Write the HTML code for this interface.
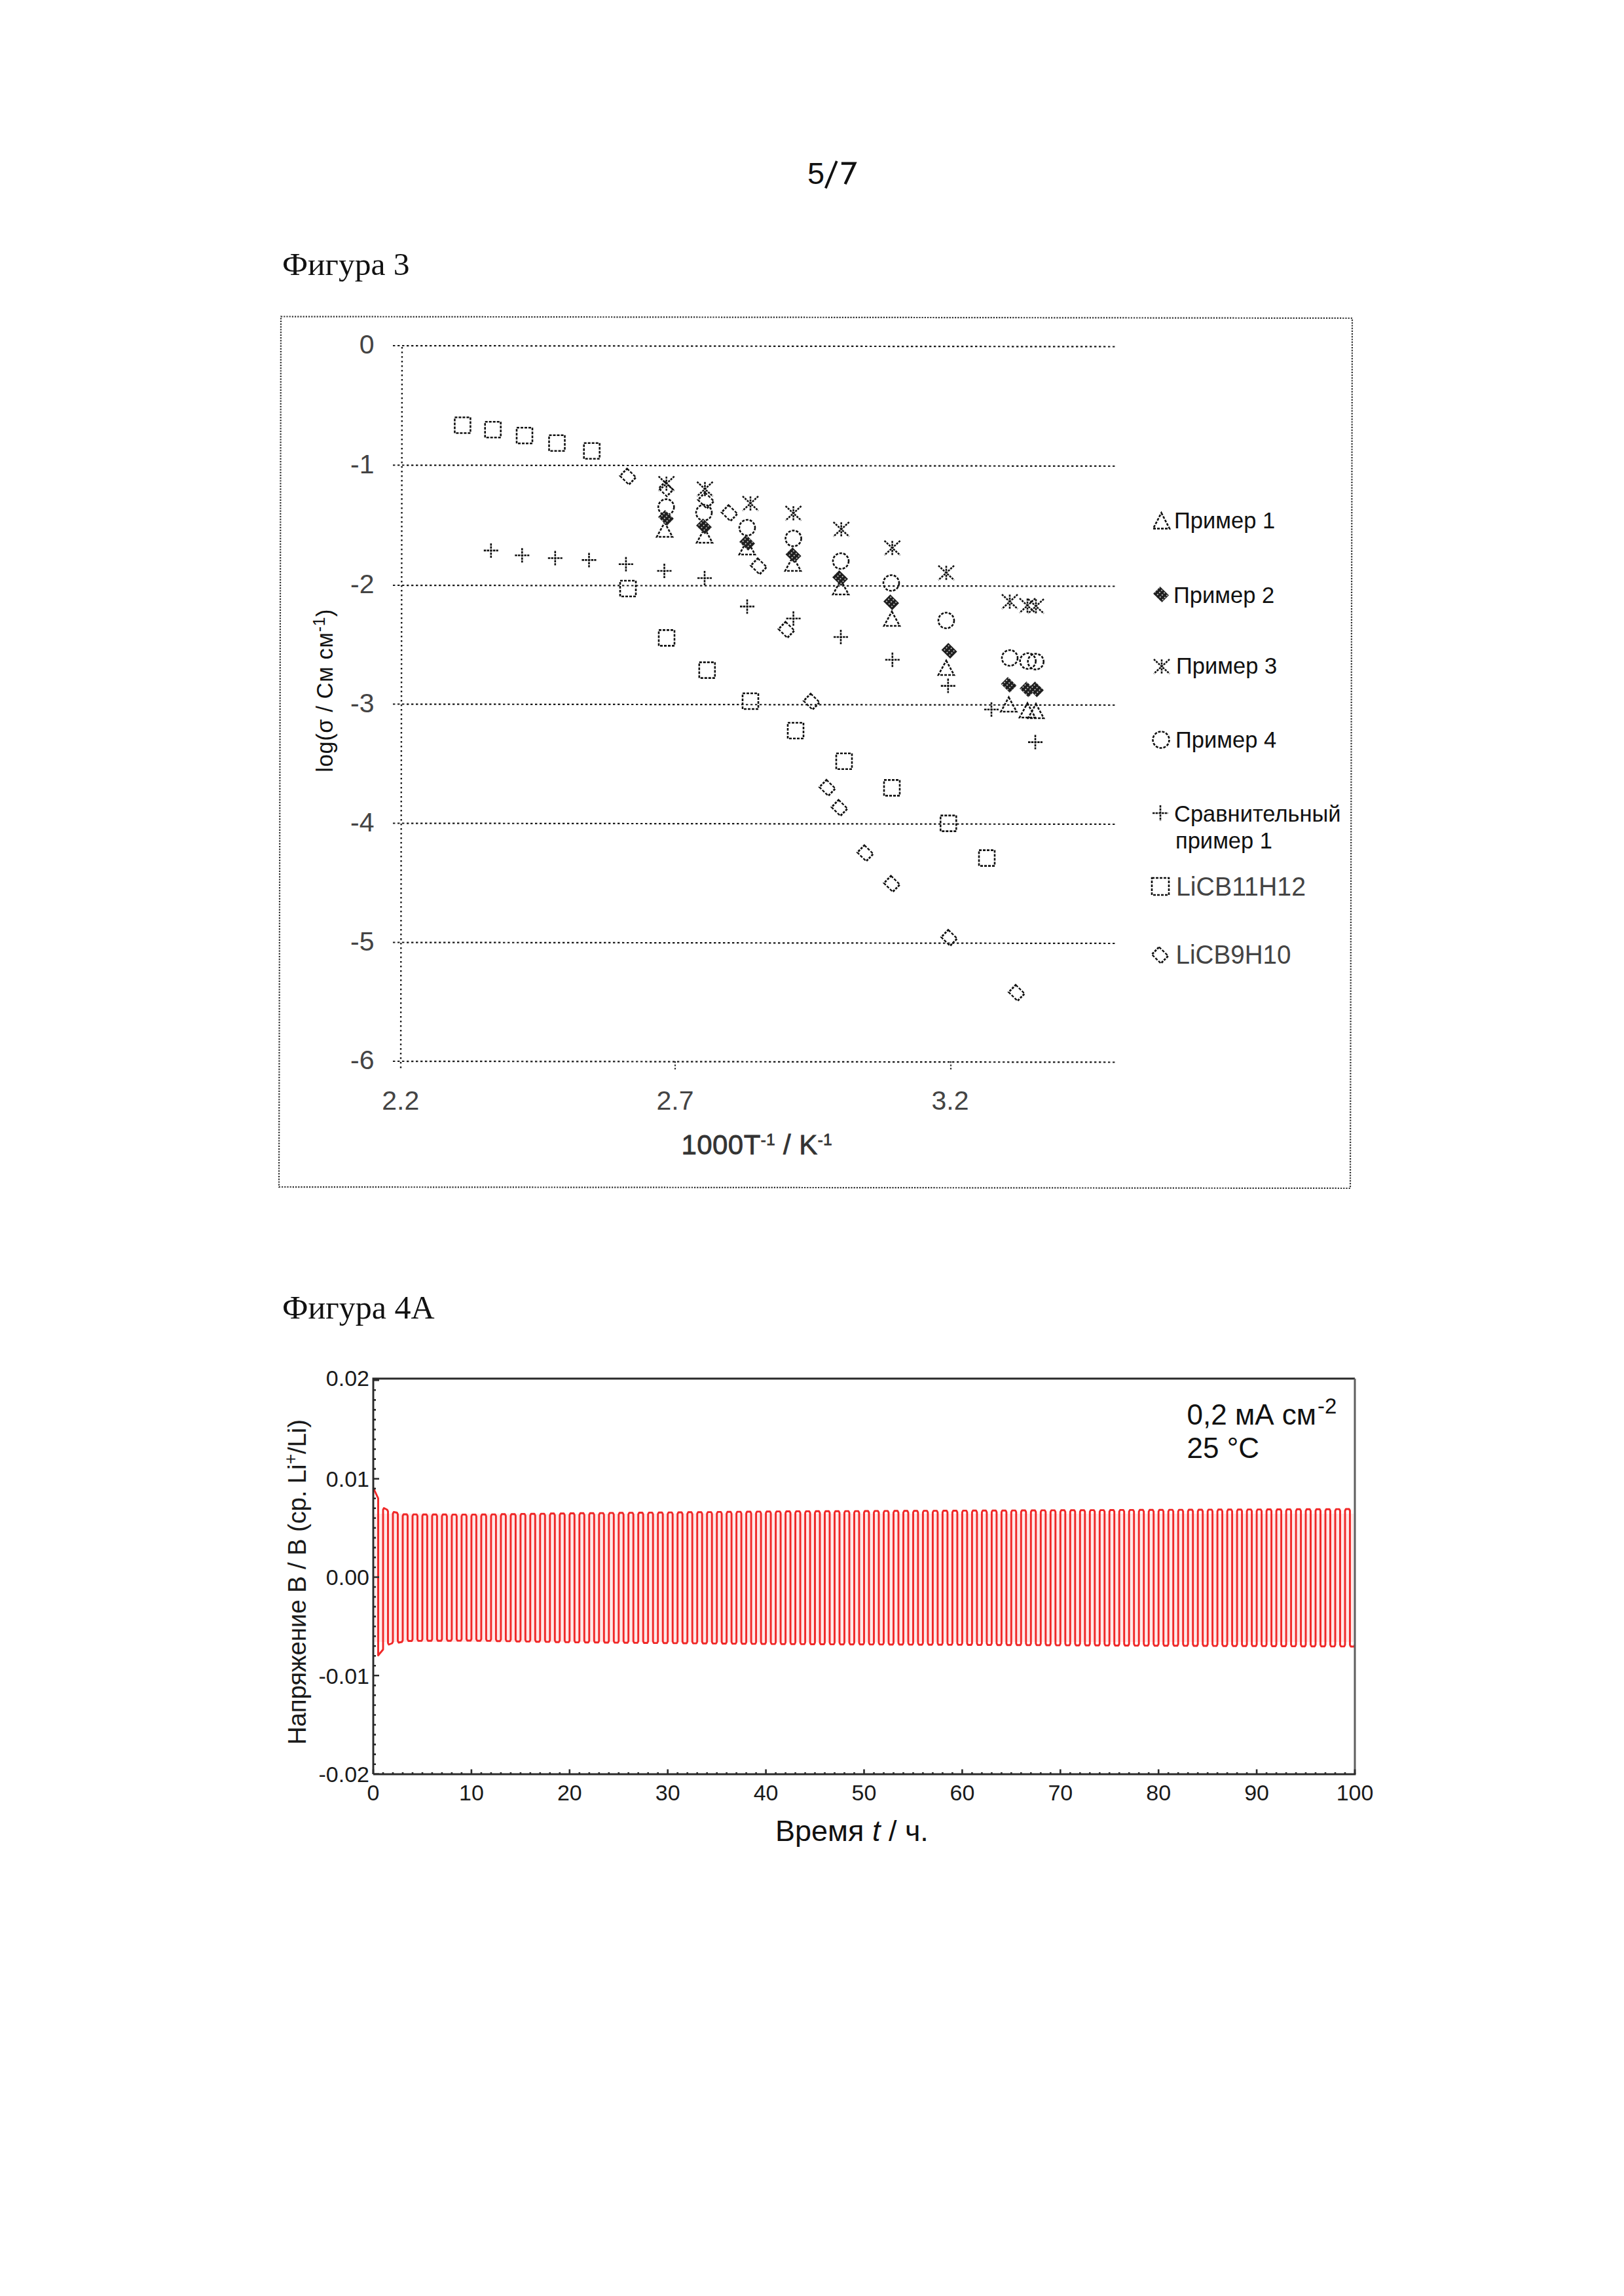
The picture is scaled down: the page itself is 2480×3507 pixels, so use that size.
<!DOCTYPE html>
<html><head><meta charset="utf-8"><title>5/7</title>
<style>html,body{margin:0;padding:0;background:#fff;} body{width:2480px;height:3507px;overflow:hidden;position:relative;} svg{position:absolute;left:0;top:0;}</style>
</head><body>
<svg width="2480" height="3507" viewBox="0 0 2480 3507">
<defs><pattern id="dots" width="5" height="5" patternUnits="userSpaceOnUse" patternTransform="rotate(45)"><circle cx="2.5" cy="2.5" r="0.9" fill="#fff"/></pattern></defs>
<polygon points="429,483.5 2065,486 2062,1815 426,1813" fill="none" stroke="#333" stroke-width="2.2" stroke-dasharray="2.2 2"/>
<line x1="600" y1="528" x2="1706" y2="529.5" stroke="#1a1a1a" stroke-width="2.2" stroke-dasharray="3.4 3.6"/>
<line x1="600" y1="710.5" x2="1706" y2="712.0" stroke="#1a1a1a" stroke-width="2.2" stroke-dasharray="3.4 3.6"/>
<line x1="600" y1="894" x2="1706" y2="895.5" stroke="#1a1a1a" stroke-width="2.2" stroke-dasharray="3.4 3.6"/>
<line x1="600" y1="1075.5" x2="1706" y2="1077.0" stroke="#1a1a1a" stroke-width="2.2" stroke-dasharray="3.4 3.6"/>
<line x1="600" y1="1257.5" x2="1706" y2="1259.0" stroke="#1a1a1a" stroke-width="2.2" stroke-dasharray="3.4 3.6"/>
<line x1="600" y1="1439.5" x2="1706" y2="1441.0" stroke="#1a1a1a" stroke-width="2.2" stroke-dasharray="3.4 3.6"/>
<line x1="600" y1="1621" x2="1706" y2="1622.5" stroke="#1a1a1a" stroke-width="2.2" stroke-dasharray="3.4 3.6"/>
<line x1="614" y1="530" x2="612" y2="1634" stroke="#1a1a1a" stroke-width="2.4" stroke-dasharray="2.4 4.6"/>
<line x1="1031" y1="1621" x2="1031" y2="1634" stroke="#333" stroke-width="2.2" stroke-dasharray="2.4 2.6"/>
<line x1="1452" y1="1621" x2="1452" y2="1634" stroke="#333" stroke-width="2.2" stroke-dasharray="2.4 2.6"/>
<rect x="694.4" y="637.5" width="24" height="24" fill="none" stroke="#111" stroke-width="2.6" stroke-dasharray="4 2"/>
<rect x="740.7" y="644.2" width="24" height="24" fill="none" stroke="#111" stroke-width="2.6" stroke-dasharray="4 2"/>
<rect x="789.0" y="653.3" width="24" height="24" fill="none" stroke="#111" stroke-width="2.6" stroke-dasharray="4 2"/>
<rect x="838.5" y="664.7" width="24" height="24" fill="none" stroke="#111" stroke-width="2.6" stroke-dasharray="4 2"/>
<rect x="891.7" y="676.7" width="24" height="24" fill="none" stroke="#111" stroke-width="2.6" stroke-dasharray="4 2"/>
<rect x="947.0" y="887.0" width="24" height="24" fill="none" stroke="#111" stroke-width="2.6" stroke-dasharray="4 2"/>
<rect x="1006.0" y="962.4" width="24" height="24" fill="none" stroke="#111" stroke-width="2.6" stroke-dasharray="4 2"/>
<rect x="1067.8" y="1011.6" width="24" height="24" fill="none" stroke="#111" stroke-width="2.6" stroke-dasharray="4 2"/>
<rect x="1134.0" y="1059.0" width="24" height="24" fill="none" stroke="#111" stroke-width="2.6" stroke-dasharray="4 2"/>
<rect x="1203.0" y="1104.0" width="24" height="24" fill="none" stroke="#111" stroke-width="2.6" stroke-dasharray="4 2"/>
<rect x="1277.0" y="1150.8" width="24" height="24" fill="none" stroke="#111" stroke-width="2.6" stroke-dasharray="4 2"/>
<rect x="1350.0" y="1191.4" width="24" height="24" fill="none" stroke="#111" stroke-width="2.6" stroke-dasharray="4 2"/>
<rect x="1436.3" y="1245.6" width="24" height="24" fill="none" stroke="#111" stroke-width="2.6" stroke-dasharray="4 2"/>
<rect x="1495.0" y="1298.6" width="24" height="24" fill="none" stroke="#111" stroke-width="2.6" stroke-dasharray="4 2"/>
<polygon transform="translate(959 728) matrix(1 0.09 0.11 1 0 0)" points="0,-12.2 12.2,0 0,12.2 -12.2,0" fill="none" stroke="#111" stroke-width="2.6" stroke-dasharray="4 2"/>
<polygon transform="translate(1017 747) matrix(1 0.09 0.11 1 0 0)" points="0,-11 11,0 0,11 -11,0" fill="none" stroke="#111" stroke-width="2.6" stroke-dasharray="4 2"/>
<polygon transform="translate(1078 764.5) matrix(1 0.09 0.11 1 0 0)" points="0,-12.2 12.2,0 0,12.2 -12.2,0" fill="none" stroke="#111" stroke-width="2.6" stroke-dasharray="4 2"/>
<polygon transform="translate(1114 783.7) matrix(1 0.09 0.11 1 0 0)" points="0,-12.2 12.2,0 0,12.2 -12.2,0" fill="none" stroke="#111" stroke-width="2.6" stroke-dasharray="4 2"/>
<polygon transform="translate(1158.6 865) matrix(1 0.09 0.11 1 0 0)" points="0,-12.2 12.2,0 0,12.2 -12.2,0" fill="none" stroke="#111" stroke-width="2.6" stroke-dasharray="4 2"/>
<polygon transform="translate(1201 962) matrix(1 0.09 0.11 1 0 0)" points="0,-12.2 12.2,0 0,12.2 -12.2,0" fill="none" stroke="#111" stroke-width="2.6" stroke-dasharray="4 2"/>
<polygon transform="translate(1239.4 1071.7) matrix(1 0.09 0.11 1 0 0)" points="0,-12.2 12.2,0 0,12.2 -12.2,0" fill="none" stroke="#111" stroke-width="2.6" stroke-dasharray="4 2"/>
<polygon transform="translate(1263.5 1203.4) matrix(1 0.09 0.11 1 0 0)" points="0,-12.2 12.2,0 0,12.2 -12.2,0" fill="none" stroke="#111" stroke-width="2.6" stroke-dasharray="4 2"/>
<polygon transform="translate(1282 1234) matrix(1 0.09 0.11 1 0 0)" points="0,-12.2 12.2,0 0,12.2 -12.2,0" fill="none" stroke="#111" stroke-width="2.6" stroke-dasharray="4 2"/>
<polygon transform="translate(1321.4 1303.2) matrix(1 0.09 0.11 1 0 0)" points="0,-12.2 12.2,0 0,12.2 -12.2,0" fill="none" stroke="#111" stroke-width="2.6" stroke-dasharray="4 2"/>
<polygon transform="translate(1362 1350) matrix(1 0.09 0.11 1 0 0)" points="0,-12.2 12.2,0 0,12.2 -12.2,0" fill="none" stroke="#111" stroke-width="2.6" stroke-dasharray="4 2"/>
<polygon transform="translate(1449.5 1432.5) matrix(1 0.09 0.11 1 0 0)" points="0,-12.2 12.2,0 0,12.2 -12.2,0" fill="none" stroke="#111" stroke-width="2.6" stroke-dasharray="4 2"/>
<polygon transform="translate(1552.5 1516.6) matrix(1 0.09 0.11 1 0 0)" points="0,-12.2 12.2,0 0,12.2 -12.2,0" fill="none" stroke="#111" stroke-width="2.6" stroke-dasharray="4 2"/>
<circle cx="1017.3" cy="774.5" r="12" fill="none" stroke="#111" stroke-width="2.6" stroke-dasharray="4 2"/>
<circle cx="1075" cy="783" r="12" fill="none" stroke="#111" stroke-width="2.6" stroke-dasharray="4 2"/>
<circle cx="1141" cy="806" r="12" fill="none" stroke="#111" stroke-width="2.6" stroke-dasharray="4 2"/>
<circle cx="1211.6" cy="822.4" r="12" fill="none" stroke="#111" stroke-width="2.6" stroke-dasharray="4 2"/>
<circle cx="1284" cy="857" r="12" fill="none" stroke="#111" stroke-width="2.6" stroke-dasharray="4 2"/>
<circle cx="1361" cy="890.5" r="12" fill="none" stroke="#111" stroke-width="2.6" stroke-dasharray="4 2"/>
<circle cx="1445" cy="947.8" r="12" fill="none" stroke="#111" stroke-width="2.6" stroke-dasharray="4 2"/>
<circle cx="1542" cy="1005" r="12" fill="none" stroke="#111" stroke-width="2.6" stroke-dasharray="4 2"/>
<circle cx="1569.7" cy="1009.7" r="12" fill="none" stroke="#111" stroke-width="2.6" stroke-dasharray="4 2"/>
<circle cx="1581.7" cy="1010.6" r="12" fill="none" stroke="#111" stroke-width="2.6" stroke-dasharray="4 2"/>
<polygon points="1015,798.0 1027.0,820.0 1003.0,820.0" fill="none" stroke="#111" stroke-width="2.6" stroke-dasharray="4 2"/>
<polygon points="1076,807.0 1088.0,829.0 1064.0,829.0" fill="none" stroke="#111" stroke-width="2.6" stroke-dasharray="4 2"/>
<polygon points="1141,825.0 1153.0,847.0 1129.0,847.0" fill="none" stroke="#111" stroke-width="2.6" stroke-dasharray="4 2"/>
<polygon points="1211,850.0 1223.0,872.0 1199.0,872.0" fill="none" stroke="#111" stroke-width="2.6" stroke-dasharray="4 2"/>
<polygon points="1284,886.0 1296.0,908.0 1272.0,908.0" fill="none" stroke="#111" stroke-width="2.6" stroke-dasharray="4 2"/>
<polygon points="1362,934.0 1374.0,956.0 1350.0,956.0" fill="none" stroke="#111" stroke-width="2.6" stroke-dasharray="4 2"/>
<polygon points="1445,1009.0 1457.0,1031.0 1433.0,1031.0" fill="none" stroke="#111" stroke-width="2.6" stroke-dasharray="4 2"/>
<polygon points="1540.5,1065.0 1552.5,1087.0 1528.5,1087.0" fill="none" stroke="#111" stroke-width="2.6" stroke-dasharray="4 2"/>
<polygon points="1569,1074.0 1581.0,1096.0 1557.0,1096.0" fill="none" stroke="#111" stroke-width="2.6" stroke-dasharray="4 2"/>
<polygon points="1582,1075.0 1594.0,1097.0 1570.0,1097.0" fill="none" stroke="#111" stroke-width="2.6" stroke-dasharray="4 2"/>
<g transform="translate(1017 791) matrix(1 0.1 0.12 1 0 0) translate(-1017 -791)"><polygon points="1017,779 1029,791 1017,803 1005,791" fill="#1e1e1e"/><polygon points="1017,779 1029,791 1017,803 1005,791" fill="url(#dots)"/></g>
<g transform="translate(1075 804) matrix(1 0.1 0.12 1 0 0) translate(-1075 -804)"><polygon points="1075,792 1087,804 1075,816 1063,804" fill="#1e1e1e"/><polygon points="1075,792 1087,804 1075,816 1063,804" fill="url(#dots)"/></g>
<g transform="translate(1141 829) matrix(1 0.1 0.12 1 0 0) translate(-1141 -829)"><polygon points="1141,817 1153,829 1141,841 1129,829" fill="#1e1e1e"/><polygon points="1141,817 1153,829 1141,841 1129,829" fill="url(#dots)"/></g>
<g transform="translate(1211.6 848) matrix(1 0.1 0.12 1 0 0) translate(-1211.6 -848)"><polygon points="1211.6,836 1223.6,848 1211.6,860 1199.6,848" fill="#1e1e1e"/><polygon points="1211.6,836 1223.6,848 1211.6,860 1199.6,848" fill="url(#dots)"/></g>
<g transform="translate(1283 883) matrix(1 0.1 0.12 1 0 0) translate(-1283 -883)"><polygon points="1283,871 1295,883 1283,895 1271,883" fill="#1e1e1e"/><polygon points="1283,871 1295,883 1283,895 1271,883" fill="url(#dots)"/></g>
<g transform="translate(1361 920) matrix(1 0.1 0.12 1 0 0) translate(-1361 -920)"><polygon points="1361,908 1373,920 1361,932 1349,920" fill="#1e1e1e"/><polygon points="1361,908 1373,920 1361,932 1349,920" fill="url(#dots)"/></g>
<g transform="translate(1449.6 994) matrix(1 0.1 0.12 1 0 0) translate(-1449.6 -994)"><polygon points="1449.6,982 1461.6,994 1449.6,1006 1437.6,994" fill="#1e1e1e"/><polygon points="1449.6,982 1461.6,994 1449.6,1006 1437.6,994" fill="url(#dots)"/></g>
<g transform="translate(1540.5 1046) matrix(1 0.1 0.12 1 0 0) translate(-1540.5 -1046)"><polygon points="1540.5,1034 1552.5,1046 1540.5,1058 1528.5,1046" fill="#1e1e1e"/><polygon points="1540.5,1034 1552.5,1046 1540.5,1058 1528.5,1046" fill="url(#dots)"/></g>
<g transform="translate(1569 1053) matrix(1 0.1 0.12 1 0 0) translate(-1569 -1053)"><polygon points="1569,1041 1581,1053 1569,1065 1557,1053" fill="#1e1e1e"/><polygon points="1569,1041 1581,1053 1569,1065 1557,1053" fill="url(#dots)"/></g>
<g transform="translate(1582 1053) matrix(1 0.1 0.12 1 0 0) translate(-1582 -1053)"><polygon points="1582,1041 1594,1053 1582,1065 1570,1053" fill="#1e1e1e"/><polygon points="1582,1041 1594,1053 1582,1065 1570,1053" fill="url(#dots)"/></g>
<path d="M1005.7,727.6600000000001 L1029.7,749.74 M1029.7,727.6600000000001 L1005.7,749.74 M1017.7,727.9000000000001 L1017.7,735.7 M1017.7,741.7 L1017.7,749.5" fill="none" stroke="#111" stroke-width="2.6" stroke-dasharray="3.2 1.4"/>
<path d="M1064.5,735.96 L1088.5,758.04 M1088.5,735.96 L1064.5,758.04 M1076.5,736.2 L1076.5,744 M1076.5,750 L1076.5,757.8" fill="none" stroke="#111" stroke-width="2.6" stroke-dasharray="3.2 1.4"/>
<path d="M1134,757.96 L1158,780.04 M1158,757.96 L1134,780.04 M1146,758.2 L1146,766 M1146,772 L1146,779.8" fill="none" stroke="#111" stroke-width="2.6" stroke-dasharray="3.2 1.4"/>
<path d="M1199.6,772.96 L1223.6,795.04 M1223.6,772.96 L1199.6,795.04 M1211.6,773.2 L1211.6,781 M1211.6,787 L1211.6,794.8" fill="none" stroke="#111" stroke-width="2.6" stroke-dasharray="3.2 1.4"/>
<path d="M1272.7,797.46 L1296.7,819.54 M1296.7,797.46 L1272.7,819.54 M1284.7,797.7 L1284.7,805.5 M1284.7,811.5 L1284.7,819.3" fill="none" stroke="#111" stroke-width="2.6" stroke-dasharray="3.2 1.4"/>
<path d="M1350.6,825.96 L1374.6,848.04 M1374.6,825.96 L1350.6,848.04 M1362.6,826.2 L1362.6,834 M1362.6,840 L1362.6,847.8" fill="none" stroke="#111" stroke-width="2.6" stroke-dasharray="3.2 1.4"/>
<path d="M1433,863.96 L1457,886.04 M1457,863.96 L1433,886.04 M1445,864.2 L1445,872 M1445,878 L1445,885.8" fill="none" stroke="#111" stroke-width="2.6" stroke-dasharray="3.2 1.4"/>
<path d="M1530,907.96 L1554,930.04 M1554,907.96 L1530,930.04 M1542,908.2 L1542,916 M1542,922 L1542,929.8" fill="none" stroke="#111" stroke-width="2.6" stroke-dasharray="3.2 1.4"/>
<path d="M1557,913.96 L1581,936.04 M1581,913.96 L1557,936.04 M1569,914.2 L1569,922 M1569,928 L1569,935.8" fill="none" stroke="#111" stroke-width="2.6" stroke-dasharray="3.2 1.4"/>
<path d="M1570,914.96 L1594,937.04 M1594,914.96 L1570,937.04 M1582,915.2 L1582,923 M1582,929 L1582,936.8" fill="none" stroke="#111" stroke-width="2.6" stroke-dasharray="3.2 1.4"/>
<path d="M738.8,840.9 L760.8,840.9 M749.8,829.9 L749.8,851.9" fill="none" stroke="#111" stroke-width="2.6" stroke-dasharray="3.5 1.2"/>
<path d="M786.3,848.3 L808.3,848.3 M797.3,837.3 L797.3,859.3" fill="none" stroke="#111" stroke-width="2.6" stroke-dasharray="3.5 1.2"/>
<path d="M836.8,852.5 L858.8,852.5 M847.8,841.5 L847.8,863.5" fill="none" stroke="#111" stroke-width="2.6" stroke-dasharray="3.5 1.2"/>
<path d="M888.5,855.4 L910.5,855.4 M899.5,844.4 L899.5,866.4" fill="none" stroke="#111" stroke-width="2.6" stroke-dasharray="3.5 1.2"/>
<path d="M944.9,861.8 L966.9,861.8 M955.9,850.8 L955.9,872.8" fill="none" stroke="#111" stroke-width="2.6" stroke-dasharray="3.5 1.2"/>
<path d="M1003.5,872 L1025.5,872 M1014.5,861 L1014.5,883" fill="none" stroke="#111" stroke-width="2.6" stroke-dasharray="3.5 1.2"/>
<path d="M1065,883 L1087,883 M1076,872 L1076,894" fill="none" stroke="#111" stroke-width="2.6" stroke-dasharray="3.5 1.2"/>
<path d="M1130,926.4 L1152,926.4 M1141,915.4 L1141,937.4" fill="none" stroke="#111" stroke-width="2.6" stroke-dasharray="3.5 1.2"/>
<path d="M1200.6,944.8 L1222.6,944.8 M1211.6,933.8 L1211.6,955.8" fill="none" stroke="#111" stroke-width="2.6" stroke-dasharray="3.5 1.2"/>
<path d="M1273,973 L1295,973 M1284,962 L1284,984" fill="none" stroke="#111" stroke-width="2.6" stroke-dasharray="3.5 1.2"/>
<path d="M1351.8,1007.8 L1373.8,1007.8 M1362.8,996.8 L1362.8,1018.8" fill="none" stroke="#111" stroke-width="2.6" stroke-dasharray="3.5 1.2"/>
<path d="M1436.8,1047.6 L1458.8,1047.6 M1447.8,1036.6 L1447.8,1058.6" fill="none" stroke="#111" stroke-width="2.6" stroke-dasharray="3.5 1.2"/>
<path d="M1503,1083.7 L1525,1083.7 M1514,1072.7 L1514,1094.7" fill="none" stroke="#111" stroke-width="2.6" stroke-dasharray="3.5 1.2"/>
<path d="M1570,1133.6 L1592,1133.6 M1581,1122.6 L1581,1144.6" fill="none" stroke="#111" stroke-width="2.6" stroke-dasharray="3.5 1.2"/>
<text x="571.5" y="540" text-anchor="end" style="font-family:'Liberation Sans',sans-serif;font-size:41px" fill="#444">0</text>
<text x="571.5" y="722.5" text-anchor="end" style="font-family:'Liberation Sans',sans-serif;font-size:41px" fill="#444">-1</text>
<text x="571.5" y="906" text-anchor="end" style="font-family:'Liberation Sans',sans-serif;font-size:41px" fill="#444">-2</text>
<text x="571.5" y="1087.5" text-anchor="end" style="font-family:'Liberation Sans',sans-serif;font-size:41px" fill="#444">-3</text>
<text x="571.5" y="1269.5" text-anchor="end" style="font-family:'Liberation Sans',sans-serif;font-size:41px" fill="#444">-4</text>
<text x="571.5" y="1451.5" text-anchor="end" style="font-family:'Liberation Sans',sans-serif;font-size:41px" fill="#444">-5</text>
<text x="571.5" y="1633" text-anchor="end" style="font-family:'Liberation Sans',sans-serif;font-size:41px" fill="#444">-6</text>
<text x="611.7" y="1695" text-anchor="middle" style="font-family:'Liberation Sans',sans-serif;font-size:41px" fill="#444">2.2</text>
<text x="1031" y="1695" text-anchor="middle" style="font-family:'Liberation Sans',sans-serif;font-size:41px" fill="#444">2.7</text>
<text x="1451" y="1695" text-anchor="middle" style="font-family:'Liberation Sans',sans-serif;font-size:41px" fill="#444">3.2</text>
<text x="1040.5" y="1763" textLength="230" style="font-family:'Liberation Sans',sans-serif;font-size:42px" fill="#333" stroke="#333" stroke-width="0.8">1000T<tspan dy="-14" style="font-size:24px">-1</tspan><tspan dy="14"> / K</tspan><tspan dy="-14" style="font-size:24px">-1</tspan></text>
<text transform="translate(508.4,1179.5) rotate(-90)" x="0" y="0" textLength="249" style="font-family:'Liberation Sans',sans-serif;font-size:34.5px" fill="#111">log(σ / См см<tspan dy="-12" style="font-size:25px">-1</tspan><tspan dy="12">)</tspan></text>
<text x="1793" y="807" style="font-family:'Liberation Sans',sans-serif;font-size:34.5px" fill="#111">Пример 1</text>
<text x="1792" y="921" style="font-family:'Liberation Sans',sans-serif;font-size:34.5px" fill="#111">Пример 2</text>
<text x="1796" y="1029" style="font-family:'Liberation Sans',sans-serif;font-size:34.5px" fill="#111">Пример 3</text>
<text x="1795" y="1142.4" style="font-family:'Liberation Sans',sans-serif;font-size:34.5px" fill="#111">Пример 4</text>
<text x="1793" y="1254.8" style="font-family:'Liberation Sans',sans-serif;font-size:34.5px" fill="#111">Сравнительный</text>
<text x="1795" y="1295.7" style="font-family:'Liberation Sans',sans-serif;font-size:34.5px" fill="#111">пример 1</text>
<text x="1796" y="1368" textLength="198" lengthAdjust="spacingAndGlyphs" style="font-family:'Liberation Sans',sans-serif;font-size:41px" fill="#444">LiCB11H12</text>
<text x="1795.5" y="1471.5" textLength="176" lengthAdjust="spacingAndGlyphs" style="font-family:'Liberation Sans',sans-serif;font-size:41px" fill="#444">LiCB9H10</text>
<polygon points="1773.5,783.4 1786.0,807.4 1761.0,807.4" fill="none" stroke="#111" stroke-width="2.6" stroke-dasharray="4 2"/>
<g transform="translate(1773 908) matrix(1 0.1 0.12 1 0 0) translate(-1773 -908)"><polygon points="1773,896 1785,908 1773,920 1761,908" fill="#1e1e1e"/><polygon points="1773,896 1785,908 1773,920 1761,908" fill="url(#dots)"/></g>
<path d="M1762,1006.96 L1786,1029.04 M1786,1006.96 L1762,1029.04 M1774,1007.2 L1774,1015 M1774,1021 L1774,1028.8" fill="none" stroke="#111" stroke-width="2.6" stroke-dasharray="3.2 1.4"/>
<circle cx="1773" cy="1130" r="12.5" fill="none" stroke="#111" stroke-width="2.6" stroke-dasharray="4 2"/>
<path d="M1760,1242 L1784,1242 M1772,1230 L1772,1254" fill="none" stroke="#111" stroke-width="2.6" stroke-dasharray="3.5 1.2"/>
<rect x="1759.0" y="1341.0" width="26" height="26" fill="none" stroke="#111" stroke-width="2.6" stroke-dasharray="4 2"/>
<polygon transform="translate(1771.4 1459) matrix(1 0.09 0.11 1 0 0)" points="0,-12.5 12.5,0 0,12.5 -12.5,0" fill="none" stroke="#111" stroke-width="2.6" stroke-dasharray="4 2"/>
<text x="1233" y="281.2" style="font-family:'Liberation Sans',sans-serif;font-size:47px" fill="#111">5</text>
<path d="M1284.9,249.6 L1305.3,249.6 L1290.6,281.2" fill="none" stroke="#111" stroke-width="4.3" stroke-linejoin="miter"/>
<line x1="1277.8" y1="246" x2="1260.8" y2="287.5" stroke="#111" stroke-width="3.8"/>
<text x="431" y="419.8" style="font-family:'Liberation Serif',serif;font-size:49.5px" fill="#111">Фигура 3</text>
<text x="431" y="2014" style="font-family:'Liberation Serif',serif;font-size:50px" fill="#111">Фигура 4А</text>
<rect x="572.0" y="2312" width="1495.0" height="196" fill="#ffe8e8"/>
<path d="M570.0,2272.5 L577.5,2288.5 L577.5,2528.5 L585.0,2519.5 L585.0,2306.0 L586.3,2303.5 L591.2,2306.0 L592.5,2308.5 L592.5,2509.5 L593.8,2512.0 L598.7,2510.0 L600.0,2507.5 L600.0,2312.0 L601.3,2309.5 L606.2,2310.5 L607.5,2313.0 L607.5,2506.5 L608.8,2509.0 L613.7,2508.0 L615.0,2505.5 L615.0,2315.5 L616.3,2313.0 L621.2,2313.0 L622.5,2315.5 L622.5,2504.0 L623.8,2506.5 L628.7,2506.5 L630.0,2504.0 L630.0,2315.6 L631.3,2313.1 L636.2,2313.1 L637.5,2315.6 L637.5,2503.9 L638.8,2506.4 L643.7,2506.4 L645.0,2503.9 L645.0,2315.7 L646.2,2313.2 L651.1,2313.2 L652.4,2315.7 L652.4,2503.8 L653.7,2506.3 L658.6,2506.3 L659.9,2503.8 L659.9,2315.7 L661.2,2313.2 L666.1,2313.2 L667.4,2315.7 L667.4,2503.8 L668.7,2506.2 L673.6,2506.2 L674.9,2503.8 L674.9,2315.8 L676.2,2313.3 L681.1,2313.3 L682.4,2315.8 L682.4,2503.7 L683.7,2506.2 L688.6,2506.2 L689.9,2503.7 L689.9,2315.9 L691.2,2313.4 L696.1,2313.4 L697.4,2315.9 L697.4,2503.6 L698.7,2506.1 L703.6,2506.1 L704.9,2503.6 L704.9,2315.9 L706.2,2313.4 L711.1,2313.4 L712.4,2315.9 L712.4,2503.5 L713.7,2506.0 L718.6,2506.0 L719.9,2503.5 L719.9,2315.9 L721.2,2313.4 L726.1,2313.4 L727.4,2315.9 L727.4,2503.7 L728.7,2506.2 L733.6,2506.2 L734.9,2503.7 L734.9,2315.8 L736.2,2313.2 L741.1,2313.2 L742.4,2315.8 L742.4,2503.9 L743.7,2506.4 L748.6,2506.4 L749.9,2503.9 L749.9,2315.6 L751.2,2313.1 L756.1,2313.1 L757.4,2315.6 L757.4,2504.2 L758.7,2506.7 L763.6,2506.7 L764.9,2504.2 L764.9,2315.3 L766.2,2312.8 L771.1,2312.8 L772.4,2315.3 L772.4,2504.4 L773.7,2506.9 L778.6,2506.9 L779.9,2504.4 L779.9,2315.2 L781.2,2312.7 L786.1,2312.7 L787.4,2315.2 L787.4,2504.7 L788.7,2507.2 L793.6,2507.2 L794.9,2504.7 L794.9,2314.9 L796.1,2312.4 L801.0,2312.4 L802.3,2314.9 L802.3,2504.9 L803.6,2507.4 L808.5,2507.4 L809.8,2504.9 L809.8,2314.8 L811.1,2312.2 L816.0,2312.2 L817.3,2314.8 L817.3,2505.2 L818.6,2507.7 L823.5,2507.7 L824.8,2505.2 L824.8,2314.6 L826.1,2312.1 L831.0,2312.1 L832.3,2314.6 L832.3,2505.4 L833.6,2507.9 L838.5,2507.9 L839.8,2505.4 L839.8,2314.3 L841.1,2311.8 L846.0,2311.8 L847.3,2314.3 L847.3,2505.7 L848.6,2508.2 L853.5,2508.2 L854.8,2505.7 L854.8,2314.2 L856.1,2311.7 L861.0,2311.7 L862.3,2314.2 L862.3,2505.9 L863.6,2508.4 L868.5,2508.4 L869.8,2505.9 L869.8,2314.0 L871.1,2311.5 L876.0,2311.5 L877.3,2314.0 L877.3,2506.1 L878.6,2508.6 L883.5,2508.6 L884.8,2506.1 L884.8,2313.8 L886.1,2311.3 L891.0,2311.3 L892.3,2313.8 L892.3,2506.2 L893.6,2508.7 L898.5,2508.7 L899.8,2506.2 L899.8,2313.7 L901.1,2311.2 L906.0,2311.2 L907.3,2313.7 L907.3,2506.3 L908.6,2508.8 L913.5,2508.8 L914.8,2506.3 L914.8,2313.6 L916.1,2311.1 L921.0,2311.1 L922.3,2313.6 L922.3,2506.5 L923.6,2509.0 L928.5,2509.0 L929.8,2506.5 L929.8,2313.4 L931.1,2310.9 L936.0,2310.9 L937.3,2313.4 L937.3,2506.6 L938.6,2509.1 L943.5,2509.1 L944.8,2506.6 L944.8,2313.3 L946.0,2310.8 L950.9,2310.8 L952.2,2313.3 L952.2,2506.7 L953.5,2509.2 L958.4,2509.2 L959.7,2506.7 L959.7,2313.1 L961.0,2310.6 L965.9,2310.6 L967.2,2313.1 L967.2,2506.9 L968.5,2509.4 L973.4,2509.4 L974.7,2506.9 L974.7,2313.0 L976.0,2310.5 L980.9,2310.5 L982.2,2313.0 L982.2,2507.0 L983.5,2509.5 L988.4,2509.5 L989.7,2507.0 L989.7,2312.9 L991.0,2310.4 L995.9,2310.4 L997.2,2312.9 L997.2,2507.1 L998.5,2509.6 L1003.4,2509.6 L1004.7,2507.1 L1004.7,2312.7 L1006.0,2310.2 L1010.9,2310.2 L1012.2,2312.7 L1012.2,2507.2 L1013.5,2509.7 L1018.4,2509.7 L1019.7,2507.2 L1019.7,2312.6 L1021.0,2310.1 L1025.9,2310.1 L1027.2,2312.6 L1027.2,2507.4 L1028.5,2509.9 L1033.4,2509.9 L1034.7,2507.4 L1034.7,2312.5 L1036.0,2310.0 L1040.9,2310.0 L1042.2,2312.5 L1042.2,2507.5 L1043.5,2510.0 L1048.4,2510.0 L1049.7,2507.5 L1049.7,2312.3 L1051.0,2309.8 L1055.9,2309.8 L1057.2,2312.3 L1057.2,2507.6 L1058.5,2510.1 L1063.4,2510.1 L1064.7,2507.6 L1064.7,2312.2 L1066.0,2309.7 L1070.9,2309.7 L1072.2,2312.2 L1072.2,2507.8 L1073.5,2510.2 L1078.4,2510.2 L1079.7,2507.8 L1079.7,2312.1 L1081.0,2309.6 L1085.9,2309.6 L1087.2,2312.1 L1087.2,2507.9 L1088.5,2510.4 L1093.4,2510.4 L1094.7,2507.9 L1094.7,2311.9 L1096.0,2309.4 L1100.8,2309.4 L1102.1,2311.9 L1102.1,2508.0 L1103.4,2510.5 L1108.3,2510.5 L1109.6,2508.0 L1109.6,2311.8 L1110.9,2309.3 L1115.8,2309.3 L1117.1,2311.8 L1117.1,2508.1 L1118.4,2510.6 L1123.3,2510.6 L1124.6,2508.1 L1124.6,2311.6 L1125.9,2309.1 L1130.8,2309.1 L1132.1,2311.6 L1132.1,2508.3 L1133.4,2510.8 L1138.3,2510.8 L1139.6,2508.3 L1139.6,2311.5 L1140.9,2309.0 L1145.8,2309.0 L1147.1,2311.5 L1147.1,2508.4 L1148.4,2510.9 L1153.3,2510.9 L1154.6,2508.4 L1154.6,2311.4 L1155.9,2308.9 L1160.8,2308.9 L1162.1,2311.4 L1162.1,2508.5 L1163.4,2511.0 L1168.3,2511.0 L1169.6,2508.5 L1169.6,2311.2 L1170.9,2308.7 L1175.8,2308.7 L1177.1,2311.2 L1177.1,2508.6 L1178.4,2511.1 L1183.3,2511.1 L1184.6,2508.6 L1184.6,2311.1 L1185.9,2308.6 L1190.8,2308.6 L1192.1,2311.1 L1192.1,2508.8 L1193.4,2511.3 L1198.3,2511.3 L1199.6,2508.8 L1199.6,2311.0 L1200.9,2308.5 L1205.8,2308.5 L1207.1,2311.0 L1207.1,2508.8 L1208.4,2511.3 L1213.3,2511.3 L1214.6,2508.8 L1214.6,2310.9 L1215.9,2308.4 L1220.8,2308.4 L1222.1,2310.9 L1222.1,2508.9 L1223.4,2511.4 L1228.3,2511.4 L1229.6,2508.9 L1229.6,2310.9 L1230.9,2308.4 L1235.8,2308.4 L1237.1,2310.9 L1237.1,2509.0 L1238.4,2511.5 L1243.2,2511.5 L1244.5,2509.0 L1244.5,2310.8 L1245.8,2308.3 L1250.7,2308.3 L1252.0,2310.8 L1252.0,2509.0 L1253.3,2511.5 L1258.2,2511.5 L1259.5,2509.0 L1259.5,2310.7 L1260.8,2308.2 L1265.7,2308.2 L1267.0,2310.7 L1267.0,2509.1 L1268.3,2511.6 L1273.2,2511.6 L1274.5,2509.1 L1274.5,2310.7 L1275.8,2308.2 L1280.7,2308.2 L1282.0,2310.7 L1282.0,2509.2 L1283.3,2511.7 L1288.2,2511.7 L1289.5,2509.2 L1289.5,2310.6 L1290.8,2308.1 L1295.7,2308.1 L1297.0,2310.6 L1297.0,2509.2 L1298.3,2511.7 L1303.2,2511.7 L1304.5,2509.2 L1304.5,2310.6 L1305.8,2308.1 L1310.7,2308.1 L1312.0,2310.6 L1312.0,2509.3 L1313.3,2511.8 L1318.2,2511.8 L1319.5,2509.3 L1319.5,2310.5 L1320.8,2308.0 L1325.7,2308.0 L1327.0,2310.5 L1327.0,2509.4 L1328.3,2511.9 L1333.2,2511.9 L1334.5,2509.4 L1334.5,2310.4 L1335.8,2307.9 L1340.7,2307.9 L1342.0,2310.4 L1342.0,2509.4 L1343.3,2511.9 L1348.2,2511.9 L1349.5,2509.4 L1349.5,2310.4 L1350.8,2307.9 L1355.7,2307.9 L1357.0,2310.4 L1357.0,2509.5 L1358.3,2512.0 L1363.2,2512.0 L1364.5,2509.5 L1364.5,2310.3 L1365.8,2307.8 L1370.7,2307.8 L1372.0,2310.3 L1372.0,2509.5 L1373.3,2512.0 L1378.2,2512.0 L1379.5,2509.5 L1379.5,2310.3 L1380.8,2307.8 L1385.7,2307.8 L1387.0,2310.3 L1387.0,2509.6 L1388.3,2512.1 L1393.2,2512.1 L1394.5,2509.6 L1394.5,2310.2 L1395.8,2307.7 L1400.6,2307.7 L1401.9,2310.2 L1401.9,2509.7 L1403.2,2512.2 L1408.1,2512.2 L1409.4,2509.7 L1409.4,2310.1 L1410.7,2307.6 L1415.6,2307.6 L1416.9,2310.1 L1416.9,2509.7 L1418.2,2512.2 L1423.1,2512.2 L1424.4,2509.7 L1424.4,2310.1 L1425.7,2307.6 L1430.6,2307.6 L1431.9,2310.1 L1431.9,2509.8 L1433.2,2512.3 L1438.1,2512.3 L1439.4,2509.8 L1439.4,2310.0 L1440.7,2307.5 L1445.6,2307.5 L1446.9,2310.0 L1446.9,2509.9 L1448.2,2512.4 L1453.1,2512.4 L1454.4,2509.9 L1454.4,2310.0 L1455.7,2307.5 L1460.6,2307.5 L1461.9,2310.0 L1461.9,2509.9 L1463.2,2512.4 L1468.1,2512.4 L1469.4,2509.9 L1469.4,2309.9 L1470.7,2307.4 L1475.6,2307.4 L1476.9,2309.9 L1476.9,2510.0 L1478.2,2512.5 L1483.1,2512.5 L1484.4,2510.0 L1484.4,2309.8 L1485.7,2307.3 L1490.6,2307.3 L1491.9,2309.8 L1491.9,2510.1 L1493.2,2512.6 L1498.1,2512.6 L1499.4,2510.1 L1499.4,2309.8 L1500.7,2307.3 L1505.6,2307.3 L1506.9,2309.8 L1506.9,2510.1 L1508.2,2512.6 L1513.1,2512.6 L1514.4,2510.1 L1514.4,2309.7 L1515.7,2307.2 L1520.6,2307.2 L1521.9,2309.7 L1521.9,2510.2 L1523.2,2512.7 L1528.1,2512.7 L1529.4,2510.2 L1529.4,2309.7 L1530.7,2307.2 L1535.6,2307.2 L1536.9,2309.7 L1536.9,2510.3 L1538.2,2512.8 L1543.0,2512.8 L1544.3,2510.3 L1544.3,2309.6 L1545.6,2307.1 L1550.5,2307.1 L1551.8,2309.6 L1551.8,2510.3 L1553.1,2512.8 L1558.0,2512.8 L1559.3,2510.3 L1559.3,2309.5 L1560.6,2307.0 L1565.5,2307.0 L1566.8,2309.5 L1566.8,2510.4 L1568.1,2512.9 L1573.0,2512.9 L1574.3,2510.4 L1574.3,2309.5 L1575.6,2307.0 L1580.5,2307.0 L1581.8,2309.5 L1581.8,2510.4 L1583.1,2512.9 L1588.0,2512.9 L1589.3,2510.4 L1589.3,2309.4 L1590.6,2306.9 L1595.5,2306.9 L1596.8,2309.4 L1596.8,2510.5 L1598.1,2513.0 L1603.0,2513.0 L1604.3,2510.5 L1604.3,2309.4 L1605.6,2306.9 L1610.5,2306.9 L1611.8,2309.4 L1611.8,2510.6 L1613.1,2513.1 L1618.0,2513.1 L1619.3,2510.6 L1619.3,2309.3 L1620.6,2306.8 L1625.5,2306.8 L1626.8,2309.3 L1626.8,2510.6 L1628.1,2513.1 L1633.0,2513.1 L1634.3,2510.6 L1634.3,2309.2 L1635.6,2306.7 L1640.5,2306.7 L1641.8,2309.2 L1641.8,2510.7 L1643.1,2513.2 L1648.0,2513.2 L1649.3,2510.7 L1649.3,2309.2 L1650.6,2306.7 L1655.5,2306.7 L1656.8,2309.2 L1656.8,2510.8 L1658.1,2513.3 L1663.0,2513.3 L1664.3,2510.8 L1664.3,2309.1 L1665.6,2306.6 L1670.5,2306.6 L1671.8,2309.1 L1671.8,2510.8 L1673.1,2513.3 L1678.0,2513.3 L1679.3,2510.8 L1679.3,2309.1 L1680.6,2306.6 L1685.5,2306.6 L1686.8,2309.1 L1686.8,2510.9 L1688.1,2513.4 L1693.0,2513.4 L1694.2,2510.9 L1694.2,2309.0 L1695.5,2306.5 L1700.4,2306.5 L1701.7,2309.0 L1701.7,2511.0 L1703.0,2513.5 L1707.9,2513.5 L1709.2,2511.0 L1709.2,2308.9 L1710.5,2306.4 L1715.4,2306.4 L1716.7,2308.9 L1716.7,2511.0 L1718.0,2513.5 L1722.9,2513.5 L1724.2,2511.0 L1724.2,2308.9 L1725.5,2306.4 L1730.4,2306.4 L1731.7,2308.9 L1731.7,2511.1 L1733.0,2513.6 L1737.9,2513.6 L1739.2,2511.1 L1739.2,2308.8 L1740.5,2306.3 L1745.4,2306.3 L1746.7,2308.8 L1746.7,2511.1 L1748.0,2513.6 L1752.9,2513.6 L1754.2,2511.1 L1754.2,2308.8 L1755.5,2306.3 L1760.4,2306.3 L1761.7,2308.8 L1761.7,2511.2 L1763.0,2513.7 L1767.9,2513.7 L1769.2,2511.2 L1769.2,2308.7 L1770.5,2306.2 L1775.4,2306.2 L1776.7,2308.7 L1776.7,2511.3 L1778.0,2513.8 L1782.9,2513.8 L1784.2,2511.3 L1784.2,2308.6 L1785.5,2306.1 L1790.4,2306.1 L1791.7,2308.6 L1791.7,2511.3 L1793.0,2513.8 L1797.9,2513.8 L1799.2,2511.3 L1799.2,2308.6 L1800.5,2306.1 L1805.4,2306.1 L1806.7,2308.6 L1806.7,2511.4 L1808.0,2513.9 L1812.9,2513.9 L1814.2,2511.4 L1814.2,2308.5 L1815.5,2306.0 L1820.4,2306.0 L1821.7,2308.5 L1821.7,2511.5 L1823.0,2514.0 L1827.9,2514.0 L1829.2,2511.5 L1829.2,2308.5 L1830.5,2306.0 L1835.4,2306.0 L1836.7,2308.5 L1836.7,2511.5 L1838.0,2514.0 L1842.9,2514.0 L1844.2,2511.5 L1844.2,2308.4 L1845.5,2305.9 L1850.3,2305.9 L1851.6,2308.4 L1851.6,2511.6 L1852.9,2514.1 L1857.8,2514.1 L1859.1,2511.6 L1859.1,2308.3 L1860.4,2305.8 L1865.3,2305.8 L1866.6,2308.3 L1866.6,2511.7 L1867.9,2514.2 L1872.8,2514.2 L1874.1,2511.7 L1874.1,2308.3 L1875.4,2305.8 L1880.3,2305.8 L1881.6,2308.3 L1881.6,2511.7 L1882.9,2514.2 L1887.8,2514.2 L1889.1,2511.7 L1889.1,2308.2 L1890.4,2305.7 L1895.3,2305.7 L1896.6,2308.2 L1896.6,2511.8 L1897.9,2514.3 L1902.8,2514.3 L1904.1,2511.8 L1904.1,2308.1 L1905.4,2305.6 L1910.3,2305.6 L1911.6,2308.1 L1911.6,2511.8 L1912.9,2514.3 L1917.8,2514.3 L1919.1,2511.8 L1919.1,2308.1 L1920.4,2305.6 L1925.3,2305.6 L1926.6,2308.1 L1926.6,2511.9 L1927.9,2514.4 L1932.8,2514.4 L1934.1,2511.9 L1934.1,2308.0 L1935.4,2305.5 L1940.3,2305.5 L1941.6,2308.0 L1941.6,2512.0 L1942.9,2514.5 L1947.8,2514.5 L1949.1,2512.0 L1949.1,2308.0 L1950.4,2305.5 L1955.3,2305.5 L1956.6,2308.0 L1956.6,2512.0 L1957.9,2514.5 L1962.8,2514.5 L1964.1,2512.0 L1964.1,2307.9 L1965.4,2305.4 L1970.3,2305.4 L1971.6,2307.9 L1971.6,2512.1 L1972.9,2514.6 L1977.8,2514.6 L1979.1,2512.1 L1979.1,2307.8 L1980.4,2305.3 L1985.3,2305.3 L1986.6,2307.8 L1986.6,2512.2 L1987.9,2514.7 L1992.8,2514.7 L1994.0,2512.2 L1994.0,2307.8 L1995.3,2305.3 L2000.2,2305.3 L2001.5,2307.8 L2001.5,2512.2 L2002.8,2514.7 L2007.7,2514.7 L2009.0,2512.2 L2009.0,2307.7 L2010.3,2305.2 L2015.2,2305.2 L2016.5,2307.7 L2016.5,2512.3 L2017.8,2514.8 L2022.7,2514.8 L2024.0,2512.3 L2024.0,2307.7 L2025.3,2305.2 L2030.2,2305.2 L2031.5,2307.7 L2031.5,2512.4 L2032.8,2514.9 L2037.7,2514.9 L2039.0,2512.4 L2039.0,2307.6 L2040.3,2305.1 L2045.2,2305.1 L2046.5,2307.6 L2046.5,2512.4 L2047.8,2514.9 L2052.7,2514.9 L2054.0,2512.4 L2054.0,2307.5 L2055.3,2305.0 L2060.2,2305.0 L2061.5,2307.5 L2061.5,2512.5 L2062.8,2515.0 L2067.7,2515.0 L2069.0,2512.5" fill="none" stroke="#f02828" stroke-width="2.9" stroke-linejoin="round"/>
<path d="M570.0,2710.0 L570.0,2105.7 L2069.0,2105.7" fill="none" stroke="#2a2a2a" stroke-width="2.9"/>
<path d="M2069.0,2105.7 L2069.0,2710.0" fill="none" stroke="#5e5e5e" stroke-width="3"/>
<path d="M570.0,2710.0 L2070.4,2710.0" fill="none" stroke="#2a2a2a" stroke-width="2.9"/>
<path d="M570.0,2709.7 L579.0,2709.7 M570.0,2694.7 L574.0,2694.7 M570.0,2679.6 L574.0,2679.6 M570.0,2664.6 L574.0,2664.6 M570.0,2649.6 L574.0,2649.6 M570.0,2634.5 L574.0,2634.5 M570.0,2619.5 L574.0,2619.5 M570.0,2604.5 L574.0,2604.5 M570.0,2589.4 L574.0,2589.4 M570.0,2574.4 L574.0,2574.4 M570.0,2559.3 L579.0,2559.3 M570.0,2544.3 L574.0,2544.3 M570.0,2529.3 L574.0,2529.3 M570.0,2514.2 L574.0,2514.2 M570.0,2499.2 L574.0,2499.2 M570.0,2484.2 L574.0,2484.2 M570.0,2469.1 L574.0,2469.1 M570.0,2454.1 L574.0,2454.1 M570.0,2439.1 L574.0,2439.1 M570.0,2424.0 L574.0,2424.0 M570.0,2409.0 L579.0,2409.0 M570.0,2394.0 L574.0,2394.0 M570.0,2378.9 L574.0,2378.9 M570.0,2363.9 L574.0,2363.9 M570.0,2348.9 L574.0,2348.9 M570.0,2333.8 L574.0,2333.8 M570.0,2318.8 L574.0,2318.8 M570.0,2303.8 L574.0,2303.8 M570.0,2288.7 L574.0,2288.7 M570.0,2273.7 L574.0,2273.7 M570.0,2258.7 L579.0,2258.7 M570.0,2243.6 L574.0,2243.6 M570.0,2228.6 L574.0,2228.6 M570.0,2213.5 L574.0,2213.5 M570.0,2198.5 L574.0,2198.5 M570.0,2183.5 L574.0,2183.5 M570.0,2168.4 L574.0,2168.4 M570.0,2153.4 L574.0,2153.4 M570.0,2138.4 L574.0,2138.4 M570.0,2123.3 L574.0,2123.3 M570.0,2108.3 L579.0,2108.3 M570.0,2710.0 L570.0,2702.5 M585.0,2710.0 L585.0,2707.0 M600.0,2710.0 L600.0,2707.0 M615.0,2710.0 L615.0,2707.0 M630.0,2710.0 L630.0,2707.0 M645.0,2710.0 L645.0,2707.0 M659.9,2710.0 L659.9,2707.0 M674.9,2710.0 L674.9,2707.0 M689.9,2710.0 L689.9,2707.0 M704.9,2710.0 L704.9,2707.0 M719.9,2710.0 L719.9,2702.5 M734.9,2710.0 L734.9,2707.0 M749.9,2710.0 L749.9,2707.0 M764.9,2710.0 L764.9,2707.0 M779.9,2710.0 L779.9,2707.0 M794.9,2710.0 L794.9,2707.0 M809.8,2710.0 L809.8,2707.0 M824.8,2710.0 L824.8,2707.0 M839.8,2710.0 L839.8,2707.0 M854.8,2710.0 L854.8,2707.0 M869.8,2710.0 L869.8,2702.5 M884.8,2710.0 L884.8,2707.0 M899.8,2710.0 L899.8,2707.0 M914.8,2710.0 L914.8,2707.0 M929.8,2710.0 L929.8,2707.0 M944.8,2710.0 L944.8,2707.0 M959.7,2710.0 L959.7,2707.0 M974.7,2710.0 L974.7,2707.0 M989.7,2710.0 L989.7,2707.0 M1004.7,2710.0 L1004.7,2707.0 M1019.7,2710.0 L1019.7,2702.5 M1034.7,2710.0 L1034.7,2707.0 M1049.7,2710.0 L1049.7,2707.0 M1064.7,2710.0 L1064.7,2707.0 M1079.7,2710.0 L1079.7,2707.0 M1094.7,2710.0 L1094.7,2707.0 M1109.6,2710.0 L1109.6,2707.0 M1124.6,2710.0 L1124.6,2707.0 M1139.6,2710.0 L1139.6,2707.0 M1154.6,2710.0 L1154.6,2707.0 M1169.6,2710.0 L1169.6,2702.5 M1184.6,2710.0 L1184.6,2707.0 M1199.6,2710.0 L1199.6,2707.0 M1214.6,2710.0 L1214.6,2707.0 M1229.6,2710.0 L1229.6,2707.0 M1244.5,2710.0 L1244.5,2707.0 M1259.5,2710.0 L1259.5,2707.0 M1274.5,2710.0 L1274.5,2707.0 M1289.5,2710.0 L1289.5,2707.0 M1304.5,2710.0 L1304.5,2707.0 M1319.5,2710.0 L1319.5,2702.5 M1334.5,2710.0 L1334.5,2707.0 M1349.5,2710.0 L1349.5,2707.0 M1364.5,2710.0 L1364.5,2707.0 M1379.5,2710.0 L1379.5,2707.0 M1394.5,2710.0 L1394.5,2707.0 M1409.4,2710.0 L1409.4,2707.0 M1424.4,2710.0 L1424.4,2707.0 M1439.4,2710.0 L1439.4,2707.0 M1454.4,2710.0 L1454.4,2707.0 M1469.4,2710.0 L1469.4,2702.5 M1484.4,2710.0 L1484.4,2707.0 M1499.4,2710.0 L1499.4,2707.0 M1514.4,2710.0 L1514.4,2707.0 M1529.4,2710.0 L1529.4,2707.0 M1544.3,2710.0 L1544.3,2707.0 M1559.3,2710.0 L1559.3,2707.0 M1574.3,2710.0 L1574.3,2707.0 M1589.3,2710.0 L1589.3,2707.0 M1604.3,2710.0 L1604.3,2707.0 M1619.3,2710.0 L1619.3,2702.5 M1634.3,2710.0 L1634.3,2707.0 M1649.3,2710.0 L1649.3,2707.0 M1664.3,2710.0 L1664.3,2707.0 M1679.3,2710.0 L1679.3,2707.0 M1694.2,2710.0 L1694.2,2707.0 M1709.2,2710.0 L1709.2,2707.0 M1724.2,2710.0 L1724.2,2707.0 M1739.2,2710.0 L1739.2,2707.0 M1754.2,2710.0 L1754.2,2707.0 M1769.2,2710.0 L1769.2,2702.5 M1784.2,2710.0 L1784.2,2707.0 M1799.2,2710.0 L1799.2,2707.0 M1814.2,2710.0 L1814.2,2707.0 M1829.2,2710.0 L1829.2,2707.0 M1844.2,2710.0 L1844.2,2707.0 M1859.1,2710.0 L1859.1,2707.0 M1874.1,2710.0 L1874.1,2707.0 M1889.1,2710.0 L1889.1,2707.0 M1904.1,2710.0 L1904.1,2707.0 M1919.1,2710.0 L1919.1,2702.5 M1934.1,2710.0 L1934.1,2707.0 M1949.1,2710.0 L1949.1,2707.0 M1964.1,2710.0 L1964.1,2707.0 M1979.1,2710.0 L1979.1,2707.0 M1994.0,2710.0 L1994.0,2707.0 M2009.0,2710.0 L2009.0,2707.0 M2024.0,2710.0 L2024.0,2707.0 M2039.0,2710.0 L2039.0,2707.0 M2054.0,2710.0 L2054.0,2707.0 M2069.0,2710.0 L2069.0,2702.5" stroke="#2a2a2a" stroke-width="2.6"/>
<text x="564" y="2116.9" text-anchor="end" style="font-family:'Liberation Sans',sans-serif;font-size:34px" fill="#1a1a1a">0.02</text>
<text x="564" y="2270.8" text-anchor="end" style="font-family:'Liberation Sans',sans-serif;font-size:34px" fill="#1a1a1a">0.01</text>
<text x="564" y="2421.2" text-anchor="end" style="font-family:'Liberation Sans',sans-serif;font-size:34px" fill="#1a1a1a">0.00</text>
<text x="564" y="2571.5" text-anchor="end" style="font-family:'Liberation Sans',sans-serif;font-size:34px" fill="#1a1a1a">-0.01</text>
<text x="564" y="2721.9" text-anchor="end" style="font-family:'Liberation Sans',sans-serif;font-size:34px" fill="#1a1a1a">-0.02</text>
<text x="570.0" y="2749.5" text-anchor="middle" style="font-family:'Liberation Sans',sans-serif;font-size:34px" fill="#1a1a1a">0</text>
<text x="719.9" y="2749.5" text-anchor="middle" style="font-family:'Liberation Sans',sans-serif;font-size:34px" fill="#1a1a1a">10</text>
<text x="869.8" y="2749.5" text-anchor="middle" style="font-family:'Liberation Sans',sans-serif;font-size:34px" fill="#1a1a1a">20</text>
<text x="1019.7" y="2749.5" text-anchor="middle" style="font-family:'Liberation Sans',sans-serif;font-size:34px" fill="#1a1a1a">30</text>
<text x="1169.6" y="2749.5" text-anchor="middle" style="font-family:'Liberation Sans',sans-serif;font-size:34px" fill="#1a1a1a">40</text>
<text x="1319.5" y="2749.5" text-anchor="middle" style="font-family:'Liberation Sans',sans-serif;font-size:34px" fill="#1a1a1a">50</text>
<text x="1469.4" y="2749.5" text-anchor="middle" style="font-family:'Liberation Sans',sans-serif;font-size:34px" fill="#1a1a1a">60</text>
<text x="1619.3" y="2749.5" text-anchor="middle" style="font-family:'Liberation Sans',sans-serif;font-size:34px" fill="#1a1a1a">70</text>
<text x="1769.2" y="2749.5" text-anchor="middle" style="font-family:'Liberation Sans',sans-serif;font-size:34px" fill="#1a1a1a">80</text>
<text x="1919.1" y="2749.5" text-anchor="middle" style="font-family:'Liberation Sans',sans-serif;font-size:34px" fill="#1a1a1a">90</text>
<text x="2069.0" y="2749.5" text-anchor="middle" style="font-family:'Liberation Sans',sans-serif;font-size:34px" fill="#1a1a1a">100</text>
<text x="1184" y="2811.6" style="font-family:'Liberation Sans',sans-serif;font-size:45px" fill="#111">Время <tspan style="font-style:italic">t</tspan> / ч.</text>
<text x="1812.5" y="2175.7" style="font-family:'Liberation Sans',sans-serif;font-size:44px" fill="#111">0,2 мА см<tspan dx="2" dy="-17" style="font-size:33px">-2</tspan></text>
<text x="1812.5" y="2227.4" style="font-family:'Liberation Sans',sans-serif;font-size:44px" fill="#111">25 °C</text>
<text transform="translate(467,2665) rotate(-90)" textLength="497" style="font-family:'Liberation Sans',sans-serif;font-size:38.5px" fill="#1a1a1a">Напряжение В / В (ср. Li<tspan dy="-14" style="font-size:27px">+</tspan><tspan dy="14">/Li)</tspan></text>
</svg>
</body></html>
